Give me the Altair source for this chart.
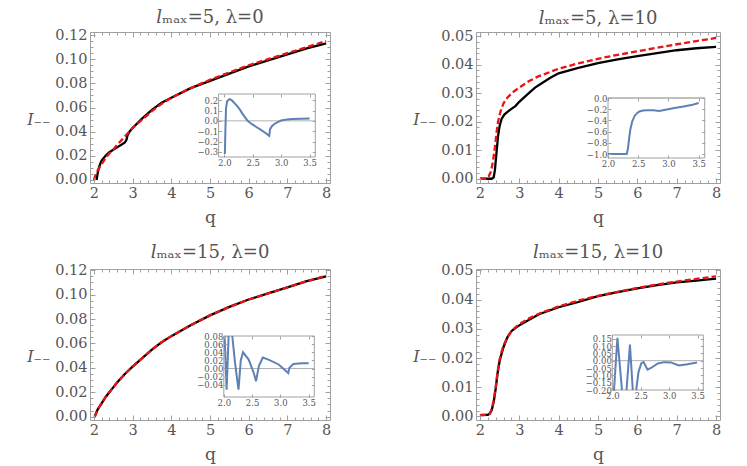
import altair as alt
import pandas as pd

# ---------------- data ----------------
XDOM = [1.9, 8.1]
X_MAJOR = [2, 3, 4, 5, 6, 7, 8]
X_MINOR = [round(1.9 + 0.2 * k + 0.1, 1) for k in range(31) if 1.9 + 0.2 * k + 0.1 <= 8.1]
INSET_X = [2.0, 2.5, 3.0, 3.5]

# panel 1: l_max=5, lambda=0
p1_black_q = [2.07, 2.1, 2.13, 2.16, 2.2, 2.25, 2.3, 2.4, 2.5, 2.6, 2.7, 2.8, 2.84, 2.87, 2.92, 3.0, 3.25, 3.5, 3.75, 4.0, 4.5, 5.0, 5.5, 6.0, 6.5, 7.0, 7.5, 8.0]
p1_black_i = [0.0, 0.006, 0.010, 0.013, 0.016, 0.018, 0.020, 0.023, 0.025, 0.027, 0.029, 0.031, 0.033, 0.037, 0.040, 0.043, 0.051, 0.058, 0.064, 0.068, 0.076, 0.082, 0.088, 0.094, 0.099, 0.104, 0.109, 0.113]
p1_red_q = [2.0, 2.05, 2.1, 2.2, 2.3, 2.4, 2.5, 2.6, 2.8, 3.0, 3.25, 3.5, 3.75, 4.0, 4.5, 5.0, 5.5, 6.0, 6.5, 7.0, 7.5, 8.0]
p1_red_i = [0.0, 0.005, 0.008, 0.013, 0.018, 0.022, 0.025, 0.029, 0.036, 0.043, 0.050, 0.057, 0.063, 0.068, 0.076, 0.083, 0.089, 0.095, 0.100, 0.105, 0.110, 0.115]
p1_in_q = [2.01, 2.02, 2.03, 2.05, 2.09, 2.13, 2.2, 2.26, 2.33, 2.41, 2.48, 2.55, 2.65, 2.72, 2.79, 2.805, 2.84, 2.88, 2.94, 3.0, 3.1, 3.2, 3.35, 3.5]
p1_in_v = [-0.32, -0.08, 0.12, 0.19, 0.21, 0.20, 0.16, 0.12, 0.06, 0.0, -0.03, -0.055, -0.09, -0.115, -0.145, -0.08, -0.05, -0.03, -0.012, 0.003, 0.012, 0.017, 0.021, 0.023]
p1_in_seg = [0] * len(p1_in_q)

# panel 2: l_max=5, lambda=10
p2_black_q = [2.0, 2.3, 2.35, 2.38, 2.42, 2.46, 2.5, 2.55, 2.62, 2.7, 2.8, 2.9, 3.0, 3.2, 3.4, 3.6, 3.8, 4.0, 4.5, 5.0, 5.5, 6.0, 6.5, 7.0, 7.5, 8.0]
p2_black_i = [0.0, 0.0, 0.0005, 0.003, 0.009, 0.015, 0.0185, 0.021, 0.0225, 0.0235, 0.0245, 0.0255, 0.027, 0.0295, 0.032, 0.0338, 0.0355, 0.037, 0.0389, 0.0406, 0.0419, 0.043, 0.0441, 0.0451, 0.0458, 0.0463]
p2_red_q = [2.0, 2.15, 2.22, 2.28, 2.33, 2.38, 2.42, 2.46, 2.52, 2.6, 2.7, 2.85, 3.0, 3.25, 3.5, 4.0, 4.5, 5.0, 5.5, 6.0, 6.5, 7.0, 7.5, 8.0]
p2_red_i = [0.0, 0.0, 0.0008, 0.0025, 0.006, 0.011, 0.016, 0.020, 0.0235, 0.0265, 0.0285, 0.0305, 0.032, 0.0343, 0.036, 0.0386, 0.0405, 0.0421, 0.0435, 0.0447, 0.046, 0.0472, 0.0483, 0.0494]
p2_in_q = [2.0, 2.31, 2.33, 2.35, 2.37, 2.40, 2.44, 2.48, 2.52, 2.58, 2.65, 2.75, 2.85, 2.95, 3.1, 3.25, 3.4, 3.5]
p2_in_v = [-1.0, -1.0, -0.9, -0.72, -0.56, -0.42, -0.32, -0.27, -0.24, -0.225, -0.22, -0.22, -0.23, -0.21, -0.18, -0.15, -0.12, -0.09]
p2_in_seg = [0] * len(p2_in_q)

# panel 3: l_max=15, lambda=0
p3_black_q = [2.02, 2.1, 2.2, 2.3, 2.4, 2.5, 2.55, 2.6, 2.8, 3.0, 3.25, 3.5, 3.75, 4.0, 4.5, 5.0, 5.5, 6.0, 6.5, 7.0, 7.5, 8.0]
p3_black_i = [0.0, 0.006, 0.011, 0.016, 0.020, 0.024, 0.026, 0.028, 0.035, 0.041, 0.048, 0.055, 0.061, 0.066, 0.075, 0.083, 0.090, 0.096, 0.101, 0.106, 0.111, 0.115]
p3_red_q = [2.02, 2.1, 2.2, 2.3, 2.4, 2.5, 2.6, 2.8, 3.0, 3.25, 3.5, 3.75, 4.0, 4.5, 5.0, 5.5, 6.0, 6.5, 7.0, 7.5, 8.0]
p3_red_i = [0.0, 0.006, 0.011, 0.016, 0.020, 0.024, 0.028, 0.035, 0.041, 0.048, 0.055, 0.061, 0.066, 0.075, 0.083, 0.090, 0.096, 0.101, 0.106, 0.111, 0.1155]
p3_in_q = [2.015, 2.05, 2.085, 2.15, 2.2, 2.26, 2.3, 2.34, 2.44, 2.53, 2.57, 2.62, 2.69, 2.79, 2.97, 3.14, 3.16, 3.23, 3.38, 3.5]
p3_in_v = [0.08, -0.052, 0.08, 0.08, 0.012, -0.052, 0.02, 0.04, 0.022, -0.011, -0.031, 0.006, 0.027, 0.022, 0.01, -0.011, 0.002, 0.011, 0.013, 0.013]
p3_in_seg = [0, 0, 0, 1, 1, 1, 1, 1, 1, 1, 1, 1, 1, 1, 1, 1, 1, 1, 1, 1]

# panel 4: l_max=15, lambda=10
p4_black_q = [2.0, 2.2, 2.25, 2.3, 2.35, 2.4, 2.45, 2.5, 2.55, 2.6, 2.7, 2.8, 2.9, 3.0, 3.25, 3.5, 4.0, 4.5, 5.0, 5.5, 6.0, 6.5, 7.0, 7.5, 8.0]
p4_black_i = [0.0005, 0.0006, 0.001, 0.0022, 0.005, 0.0095, 0.015, 0.019, 0.0215, 0.0238, 0.0272, 0.0292, 0.0303, 0.0312, 0.0331, 0.035, 0.0374, 0.0392, 0.0412, 0.0426, 0.0439, 0.045, 0.0459, 0.0465, 0.0472]
p4_red_q = [2.0, 2.2, 2.25, 2.3, 2.35, 2.4, 2.45, 2.5, 2.55, 2.6, 2.7, 2.8, 2.9, 3.0, 3.25, 3.5, 4.0, 4.5, 5.0, 5.5, 6.0, 6.5, 7.0, 7.5, 8.0]
p4_red_i = [0.0005, 0.0006, 0.001, 0.0025, 0.0055, 0.010, 0.0155, 0.0195, 0.0222, 0.0243, 0.0272, 0.0292, 0.0305, 0.0316, 0.0336, 0.0352, 0.0377, 0.0397, 0.0413, 0.0427, 0.044, 0.0452, 0.0462, 0.0471, 0.048]
p4_in_q = [2.03, 2.09, 2.17, 2.25, 2.31, 2.36, 2.42, 2.46, 2.51, 2.55, 2.62, 2.68, 2.8, 2.91, 3.03, 3.17, 3.32, 3.49]
p4_in_v = [-0.2, 0.155, -0.2, -0.2, 0.109, -0.2, -0.2, -0.079, -0.017, -0.01, -0.061, -0.05, -0.019, -0.01, -0.012, -0.033, -0.024, -0.012]
p4_in_seg = [0, 0, 0, 1, 1, 1, 2, 2, 2, 2, 2, 2, 2, 2, 2, 2, 2, 2]

# ---------------- styling ----------------
FONT = "DejaVu Serif"
FRAME = "#a0a0a0"
TXT = "#555555"
BLUE = "#5e81b5"
H = 151
TK, TKM, TKI = 5, 3, 3


def axis(orient, values, size, offset, **kw):
    d = dict(orient=orient, values=values, tickSize=size, offset=offset,
             domain=False, grid=False, tickColor=FRAME, tickWidth=1, zindex=1,
             labelOverlap=False, labelFlush=False, labelFont=FONT, titleFont=FONT,
             labelColor=TXT, titleColor=TXT, titleFontWeight="normal")
    if "labels" not in kw:
        d["labels"] = False
    if "title" not in kw:
        d["title"] = None
    d.update(kw)
    return alt.Axis(**d)


def panel(title, W, bq, bi, rq, ri, ydom, ymaj, ymin, yfmt,
          iq, iv, iseg, ixdom, iydom, iyticks, iyfmt, ibox):
    dfb = pd.DataFrame({"q": bq, "I": bi})
    dfr = pd.DataFrame({"q": rq, "I": ri})
    xs = alt.Scale(domain=XDOM, nice=False, zero=False)
    ys = alt.Scale(domain=ydom, nice=False, zero=False)

    black = alt.Chart(dfb).mark_line(color="black", strokeWidth=2.3).encode(
        x=alt.X("q:Q", scale=xs, axis=axis("bottom", X_MAJOR, TK, -TK, labels=True, format="d",
                                           labelFontSize=14.5, labelPadding=3, title="q",
                                           titleFontSize=17, titlePadding=10)),
        y=alt.Y("I:Q", scale=ys, axis=axis("left", ymaj, TK, -TK, labels=True, format=yfmt,
                                           labelFontSize=14.5, labelPadding=3, title="I₋₋",
                                           titleFontSize=16, titleFontStyle="italic", titleAngle=0,
                                           titleAlign="right", titleBaseline="middle",
                                           titleX=-45, titleY=87)),
    )
    red = alt.Chart(dfr).mark_line(color="#ee1111", strokeWidth=2.3, strokeDash=[6, 3]).encode(
        x=alt.X("q:Q", scale=xs, axis=axis("top", X_MAJOR, TK, -TK)),
        y=alt.Y("I:Q", scale=ys, axis=axis("right", ymaj, TK, -TK)),
    )
    ghost1 = alt.Chart(dfb).mark_line(opacity=0).encode(
        x=alt.X("q:Q", scale=xs, axis=axis("bottom", X_MINOR, TKM, -TKM)),
        y=alt.Y("I:Q", scale=ys, axis=axis("left", ymin, TKM, -TKM)),
    )
    ghost2 = alt.Chart(dfb).mark_line(opacity=0).encode(
        x=alt.X("q:Q", scale=xs, axis=axis("top", X_MINOR, TKM, -TKM)),
        y=alt.Y("I:Q", scale=ys, axis=axis("right", ymin, TKM, -TKM)),
    )

    x0, x1, y0, y1 = ibox
    xi = alt.Scale(domain=ixdom, range=[x0, x1], nice=False, zero=False)
    yi = alt.Scale(domain=iydom, range=[y1, y0], nice=False, zero=False)
    box = pd.DataFrame({"a": [ixdom[0]], "b": [ixdom[1]], "c": [iydom[0]], "d": [iydom[1]], "z": [0.0]})
    frame = alt.Chart(box).mark_rect(fill="white", stroke=FRAME, strokeWidth=1).encode(
        x=alt.X("a:Q", scale=xi, axis=axis("bottom", INSET_X, TKI, y1 - TKI - H, labels=True,
                                           format=".1f", labelFontSize=8.5, labelPadding=1)),
        x2="b:Q",
        y=alt.Y("c:Q", scale=yi, axis=axis("left", iyticks, TKI, -(x0 + TKI), labels=True,
                                           format=iyfmt, labelFontSize=8.5, labelPadding=1)),
        y2="d:Q",
    )
    zero = alt.Chart(box).mark_rule(color="#b0b0b0", strokeWidth=1).encode(
        x=alt.X("a:Q", scale=xi, axis=axis("top", INSET_X, TKI, -(y0 + TKI))),
        x2="b:Q",
        y=alt.Y("z:Q", scale=yi, axis=axis("right", iyticks, TKI, x1 - TKI - W)),
    )
    dfi = pd.DataFrame({"q": iq, "v": iv, "seg": iseg})
    blue = alt.Chart(dfi).mark_line(color=BLUE, strokeWidth=2).encode(
        x=alt.X("q:Q", scale=xi, axis=None),
        y=alt.Y("v:Q", scale=yi, axis=None),
        detail="seg:N",
    )

    return alt.layer(black, red, ghost1, ghost2, frame, zero, blue).resolve_scale(
        x="independent", y="independent"
    ).resolve_axis(x="independent", y="independent").properties(
        width=W, height=H,
        title=alt.TitleParams(title, frame="group", offset=0, fontSize=18, font=FONT,
                              color=TXT, fontWeight="normal"),
    )


p1 = panel("𝑙ₘₐₓ=5, λ=0", 240, p1_black_q, p1_black_i, p1_red_q, p1_red_i,
           [-0.0025, 0.1225], [0, 0.02, 0.04, 0.06, 0.08, 0.10, 0.12],
           [round(0.005 * k, 3) for k in range(25)], ".2f",
           p1_in_q, p1_in_v, p1_in_seg, [1.9, 3.6], [-0.35, 0.26],
           [-0.3, -0.2, -0.1, 0.0, 0.1, 0.2], ".1f", (128.6, 225.3, 62, 125))
p2 = panel("𝑙ₘₐₓ=5, λ=10", 244, p2_black_q, p2_black_i, p2_red_q, p2_red_i,
           [-0.0015, 0.0515], [0, 0.01, 0.02, 0.03, 0.04, 0.05],
           [round(0.002 * k, 3) for k in range(26)], ".2f",
           p2_in_q, p2_in_v, p2_in_seg, [2.0, 3.6], [-1.07, 0.0],
           [-1.0, -0.8, -0.6, -0.4, -0.2, 0.0], ".1f", (132, 228.7, 66, 126))
p3 = panel("𝑙ₘₐₓ=15, λ=0", 240, p3_black_q, p3_black_i, p3_red_q, p3_red_i,
           [-0.0027, 0.121], [0, 0.02, 0.04, 0.06, 0.08, 0.10, 0.12],
           [round(0.005 * k, 3) for k in range(25)], ".2f",
           p3_in_q, p3_in_v, p3_in_seg, [2.0, 3.6], [-0.07, 0.08],
           [-0.04, -0.02, 0.0, 0.02, 0.04, 0.06, 0.08], ".2f", (133.8, 224.3, 67, 128))
p4 = panel("𝑙ₘₐₓ=15, λ=10", 244, p4_black_q, p4_black_i, p4_red_q, p4_red_i,
           [-0.0012, 0.0505], [0, 0.01, 0.02, 0.03, 0.04, 0.05],
           [round(0.002 * k, 3) for k in range(26)], ".2f",
           p4_in_q, p4_in_v, p4_in_seg, [2.0, 3.6], [-0.2, 0.175],
           [-0.2, -0.15, -0.1, -0.05, 0.0, 0.05, 0.1, 0.15], ".2f", (136.3, 227.3, 66, 121))

chart = alt.vconcat(
    alt.hconcat(p1, p2, spacing=80),
    alt.hconcat(p3, p4, spacing=80),
    spacing=17,
).properties(
    padding={"left": 18, "top": 0, "right": 5, "bottom": 2}
).configure_view(
    stroke=FRAME, strokeWidth=1
)

chart.save("out.html", embed_options={"renderer": "svg", "actions": False})
